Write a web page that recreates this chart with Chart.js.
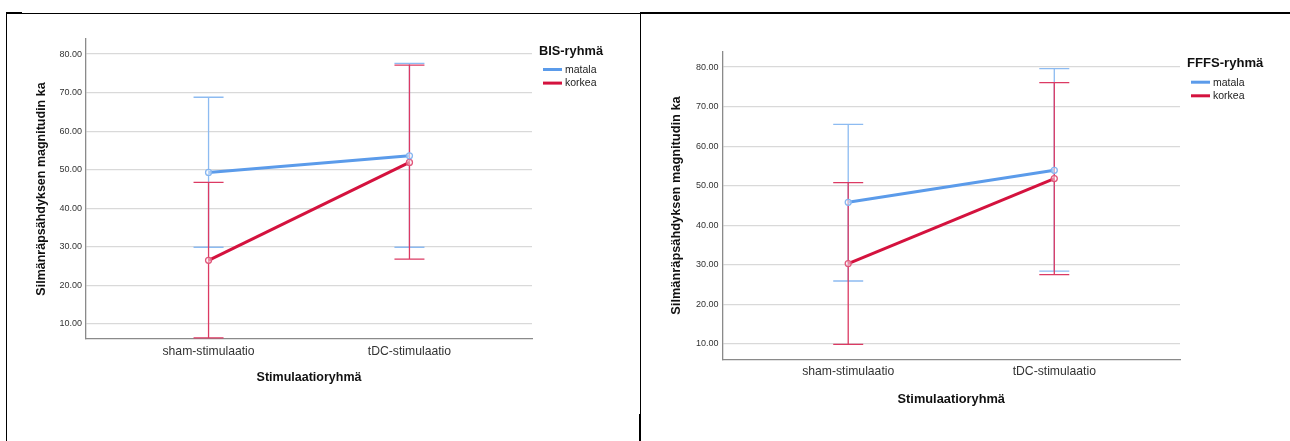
<!DOCTYPE html>
<html lang="fi">
<head>
  <meta charset="UTF-8" />
  <title>Silmänräpsähdyksen magnitudi</title>
  <style>
    body { margin: 0; background: #fff; width: 1290px; height: 441px; position: relative; overflow: hidden; }
    canvas { position: absolute; top: 16px; }
    #bisCanvas { left: 8px; }
    #fffsCanvas { left: 641px; }
    .rule { position: absolute; background: #000; }
  </style>
</head>
<body>
  <div class="rule" style="left:6px; top:13px; width:634px; height:1px;"></div>
  <div class="rule" style="left:6px; top:12px; width:16px; height:2px;"></div>
  <div class="rule" style="left:6px; top:13px; width:1px; height:428px;"></div>
  <div class="rule" style="left:640px; top:12px; width:650px; height:2px;"></div>
  <div class="rule" style="left:640px; top:13px; width:1px; height:428px;"></div>
  <div class="rule" style="left:639px; top:414px; width:2px; height:27px;"></div>

  <canvas id="bisCanvas" width="631" height="425"></canvas>
  <canvas id="fffsCanvas" width="649" height="425"></canvas>

  <script src="https://cdn.jsdelivr.net/npm/chart.js"></script>
  <script>
    const categories = ['sham-stimulaatio', 'tDC-stimulaatio'];
    const groups = ['matala', 'korkea'];
    const yTicks = [10, 20, 30, 40, 50, 60, 70, 80];

    // BIS-ryhmä: keskiarvo ja virhepalkkien ala- ja yläraja
    const bisMatalaMean = [49.3, 53.6];
    const bisMatalaLow = [29.9, 29.9];
    const bisMatalaHigh = [68.8, 77.6];
    const bisKorkeaMean = [26.5, 51.9];
    const bisKorkeaLow = [6.4, 26.8];
    const bisKorkeaHigh = [46.7, 77.1];

    // FFFS-ryhmä
    const fffsMatalaMean = [45.8, 53.9];
    const fffsMatalaLow = [25.9, 28.4];
    const fffsMatalaHigh = [65.5, 79.6];
    const fffsKorkeaMean = [30.3, 51.8];
    const fffsKorkeaLow = [9.9, 27.5];
    const fffsKorkeaHigh = [50.8, 76.1];

    const FONT = "'Liberation Sans', Arial, sans-serif";
    const BLUE = '#5b9bea', BLUE_ERR = '#8dbbf1', BLUE_PT = '#86b6f0';
    const RED = '#d4123e', RED_ERR = '#dc3a63', RED_PT = '#e0567a';

    const errorBars = {
      id: 'errorBars',
      beforeDatasetsDraw(chart) {
        const ctx = chart.ctx;
        const xs = chart.scales.x, ys = chart.scales.y;
        const cap = chart.options.plugins.errorBars.cap;
        chart.data.datasets.forEach(ds => {
          ctx.save();
          ctx.strokeStyle = ds.errColor;
          ctx.lineWidth = 1.3;
          ds.errLow.forEach((lo, i) => {
            const x = xs.getPixelForValue(i);
            const y1 = ys.getPixelForValue(lo);
            const y2 = ys.getPixelForValue(ds.errHigh[i]);
            ctx.beginPath();
            ctx.moveTo(x, y1); ctx.lineTo(x, y2);
            ctx.moveTo(x - cap, y1); ctx.lineTo(x + cap, y1);
            ctx.moveTo(x - cap, y2); ctx.lineTo(x + cap, y2);
            ctx.stroke();
          });
          ctx.restore();
        });
      }
    };

    const groupLegend = {
      id: 'groupLegend',
      afterDraw(chart) {
        const opts = chart.options.plugins.groupLegend;
        const ctx = chart.ctx;
        const a = chart.chartArea;
        ctx.save();
        ctx.textBaseline = 'middle';
        ctx.textAlign = 'left';
        ctx.fillStyle = '#111';
        ctx.font = `bold ${opts.titleSize}px ${FONT}`;
        ctx.fillText(opts.title, a.right + 7, a.top + 12);
        ctx.font = `${opts.itemSize}px ${FONT}`;
        chart.data.datasets.forEach((ds, i) => {
          const y = a.top + 30.5 + i * 13.6;
          ctx.fillStyle = ds.borderColor;
          ctx.fillRect(a.right + 11, y - 1.5, 19, 3);
          ctx.fillStyle = '#222';
          ctx.fillText(ds.label, a.right + 33, y + 0.5);
        });
        ctx.restore();
      }
    };

    function series(mean) {
      return mean.map((v, i) => ({ x: i, y: v }));
    }

    function makeChart(id, legendTitle, sets, box) {
      const datasets = sets.map((s, i) => ({
        label: groups[i],
        data: series(s.mean),
        errLow: s.low,
        errHigh: s.high,
        errColor: i === 0 ? BLUE_ERR : RED_ERR,
        borderColor: i === 0 ? BLUE : RED,
        borderWidth: 3,
        pointRadius: 3,
        pointBorderWidth: 1.3,
        pointBorderColor: i === 0 ? BLUE_PT : RED_PT,
        pointBackgroundColor: 'rgba(255,255,255,0.5)',
        tension: 0,
        clip: false
      }));

      return new Chart(document.getElementById(id), {
        type: 'line',
        data: { datasets },
        plugins: [errorBars, groupLegend],
        options: {
          responsive: false,
          animation: false,
          devicePixelRatio: 1,
          layout: { padding: { left: 20, right: box.right, top: box.top, bottom: box.bottom } },
          plugins: {
            legend: { display: false },
            tooltip: { enabled: false },
            errorBars: { cap: 15 },
            groupLegend: { title: legendTitle, titleSize: box.titleSize, itemSize: 10.5 }
          },
          scales: {
            x: {
              type: 'linear',
              min: -0.61,
              max: 1.61,
              afterBuildTicks: scale => { scale.ticks = categories.map((c, i) => ({ value: i })); },
              afterFit: scale => { scale.height = box.xHeight; },
              grid: { display: false, drawTicks: false },
              border: { display: true, color: '#8a8a8a', width: 1.3 },
              ticks: {
                padding: 5.5,
                color: '#333',
                font: { family: FONT, size: 12.2 },
                callback: v => categories[v]
              },
              title: {
                display: true,
                text: 'Stimulaatioryhmä',
                color: '#111',
                padding: { top: 0, bottom: 0 },
                font: { family: FONT, size: box.titleSize - 0.3, weight: 'bold' }
              }
            },
            y: {
              min: 6.1,
              max: 83.9,
              afterBuildTicks: scale => { scale.ticks = yTicks.map(v => ({ value: v })); },
              afterFit: scale => { scale.width = box.yWidth; },
              grid: { color: '#d9d9d9', lineWidth: 1.3, drawTicks: false },
              border: { display: true, color: '#8a8a8a', width: 1.3 },
              ticks: {
                padding: 4,
                color: '#333',
                font: { family: FONT, size: 9 },
                callback: v => v.toFixed(2)
              },
              title: {
                display: true,
                text: 'Silmänräpsähdyksen magnitudin ka',
                color: '#111',
                padding: { top: box.yTitlePad, bottom: 0 },
                font: { family: FONT, size: box.titleSize - 0.3, weight: 'bold' }
              }
            }
          }
        }
      });
    }

    makeChart('bisCanvas', 'BIS-ryhmä', [
      { mean: bisMatalaMean, low: bisMatalaLow, high: bisMatalaHigh },
      { mean: bisKorkeaMean, low: bisKorkeaLow, high: bisKorkeaHigh }
    ], { right: 107, top: 23, bottom: 55.8, xHeight: 46.2, yWidth: 58, yTitlePad: 6.5, titleSize: 12.8 });

    makeChart('fffsCanvas', 'FFFS-ryhmä', [
      { mean: fffsMatalaMean, low: fffsMatalaLow, high: fffsMatalaHigh },
      { mean: fffsKorkeaMean, low: fffsKorkeaLow, high: fffsKorkeaHigh }
    ], { right: 110, top: 35.7, bottom: 34.2, xHeight: 47.5, yWidth: 61.5, yTitlePad: 8.2, titleSize: 13.1 });
  </script>
</body>
</html>
